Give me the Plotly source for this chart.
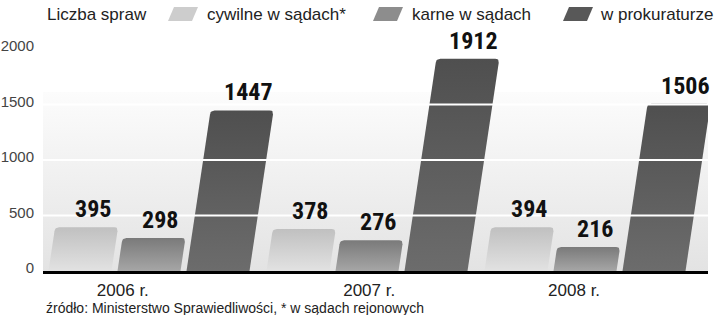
import plotly.graph_objects as go

# ---------------- data ----------------
years = ["2006 r.", "2007 r.", "2008 r."]
series_names = ["cywilne w sądach*", "karne w sądach", "w prokuraturze"]
cywilne = [395, 378, 394]
karne = [298, 276, 216]
prokuratura = [1447, 1912, 1506]
y_ticks = [0, 500, 1000, 1500, 2000]

# ---------------- layout constants ----------------
W, H = 720, 315
ML, MR, MT, MB = 43, 12, 49, 44
PW, PH = W - ML - MR, H - MT - MB
YMAX = 2000
PX_PER_X = 218.0                       # pixels per group step
X0 = -(149 - ML) / PX_PER_X
X1 = X0 + PW / PX_PER_X
PX_PER_Y = PH / YMAX
BAR_OFF = [-69 / PX_PER_X, 0.0, 69 / PX_PER_X]
BAR_W_PX = 63
SKEW = 0.15
RAD = 4
LABEL_OFF = [-0.12, 1.01, 1.95]
grad = [("#e2e2e2", "#c0c0c0"), ("#a6a6a6", "#7a7a7a"), ("#6c6c6c", "#4f4f4f")]
swatch_col = ["#cdcdcd", "#8d8d8d", "#585858"]
FONT = "Liberation Sans, Arial, sans-serif"
NARROW = "Liberation Sans Narrow, Arial Narrow, Roboto Condensed, DejaVu Sans Condensed, sans-serif"

fig = go.Figure()

# background gradient panel
BG_TOP = 1612
fig.add_trace(go.Scatter(
    x=[X0, X1, X1, X0, X0], y=[0, 0, BG_TOP, BG_TOP, 0],
    mode="lines", line=dict(width=0), fill="toself",
    fillgradient=dict(type="vertical", start=0, stop=BG_TOP,
                      colorscale=[[0, "#e3e3e3"], [1, "#fcfcfc"]]),
    hoverinfo="skip", showlegend=False))


def bar_poly(cx, v):
    """skewed, top-rounded bar polygon in data coords"""
    h = v * PX_PER_Y
    s = SKEW * h
    bx0, bx1 = -BAR_W_PX / 2, BAR_W_PX / 2
    pts = [(bx0, 0), (bx1, 0)]
    p0 = (bx1 + s * (h - RAD) / h, h - RAD)
    pts.append(p0)
    c = (bx1 + s, h)
    p2 = (bx1 + s - RAD, h)
    for k in range(1, 7):
        t = k / 6
        pts.append(((1 - t) ** 2 * p0[0] + 2 * (1 - t) * t * c[0] + t * t * p2[0],
                    (1 - t) ** 2 * p0[1] + 2 * (1 - t) * t * c[1] + t * t * p2[1]))
    p0 = (bx0 + s + RAD, h)
    c = (bx0 + s, h)
    p2 = (bx0 + s * (h - RAD) / h, h - RAD)
    for k in range(0, 7):
        t = k / 6
        pts.append(((1 - t) ** 2 * p0[0] + 2 * (1 - t) * t * c[0] + t * t * p2[0],
                    (1 - t) ** 2 * p0[1] + 2 * (1 - t) * t * c[1] + t * t * p2[1]))
    pts.append((bx0, 0))
    xs = [cx + px / PX_PER_X for px, _ in pts]
    ys = [py / PX_PER_Y for _, py in pts]
    return xs, ys, cx + s / PX_PER_X


annotations = []
for si, vals in enumerate([cywilne, karne, prokuratura]):
    for gi, v in enumerate(vals):
        cx = gi + BAR_OFF[si]
        xs, ys, topc = bar_poly(cx, v)
        fig.add_trace(go.Scatter(
            x=xs, y=ys, mode="lines", line=dict(width=0), fill="toself",
            fillgradient=dict(type="vertical", start=0, stop=v,
                              colorscale=[[0, grad[si][0]], [1, grad[si][1]]]),
            hoverinfo="skip", showlegend=False, name=series_names[si]))
        annotations.append(dict(
            x=topc + 6 / PX_PER_X, y=v, xref="x", yref="y",
            text=f"<b>{v}</b>", showarrow=False, xanchor="center", yanchor="bottom",
            yshift=2, font=dict(family=NARROW, size=24, color="#111")))

shapes = []
for t in y_ticks[1:-1]:
    shapes.append(dict(type="line", xref="paper", yref="y", x0=0, x1=1, y0=t, y1=t,
                       line=dict(color="white", width=2), layer="above"))


def px2paper(px, py):
    return (px - ML) / PW, (H - MB - py) / PH


# legend
annotations.append(dict(x=px2paper(45, 0)[0], y=px2paper(0, 14)[1], xref="paper", yref="paper",
                        text="Liczba spraw", showarrow=False, xanchor="left", yanchor="middle",
                        font=dict(family=FONT, size=17, color="#222")))
sw_x = [168, 373, 563]
tx_x = [205, 410, 598]
for i, name in enumerate(series_names):
    x0 = sw_x[i]
    pts = [(x0, 21), (x0 + 24, 21), (x0 + 30, 7), (x0 + 6, 7)]
    path = "M " + " L ".join(f"{px2paper(a, b)[0]},{px2paper(a, b)[1]}" for a, b in pts) + " Z"
    shapes.append(dict(type="path", xref="paper", yref="paper", path=path,
                       fillcolor=swatch_col[i], line=dict(width=0)))
    annotations.append(dict(x=px2paper(tx_x[i], 0)[0], y=px2paper(0, 14)[1], xref="paper", yref="paper",
                            text=name, showarrow=False, xanchor="left", yanchor="middle",
                            font=dict(family=FONT, size=17, color="#222")))

annotations.append(dict(x=px2paper(44, 0)[0], y=px2paper(0, 308)[1], xref="paper", yref="paper",
                        text="źródło: Ministerstwo Sprawiedliwości, * w sądach rejonowych",
                        showarrow=False, xanchor="left", yanchor="middle",
                        font=dict(family=FONT, size=14, color="#222")))

fig.update_layout(
    width=W, height=H, margin=dict(l=ML, r=MR, t=MT, b=MB, autoexpand=False),
    paper_bgcolor="white", plot_bgcolor="white",
    showlegend=False, shapes=shapes, annotations=annotations,
    xaxis=dict(range=[X0, X1], tickvals=LABEL_OFF, ticktext=years, showgrid=False,
               zeroline=False, showline=True, linecolor="black", linewidth=3,
               ticks="", ticklabelstandoff=2, automargin=False,
               tickfont=dict(family=FONT, size=17, color="#222"), fixedrange=True),
    yaxis=dict(range=[0, YMAX], tickvals=y_ticks, showgrid=False, zeroline=False,
               showline=False, ticks="", ticklabelstandoff=8, ticklabelshift=-3,
               automargin=False,
               tickfont=dict(family=FONT, size=15, color="#444"), fixedrange=True),
)

fig.write_html("out.html")
